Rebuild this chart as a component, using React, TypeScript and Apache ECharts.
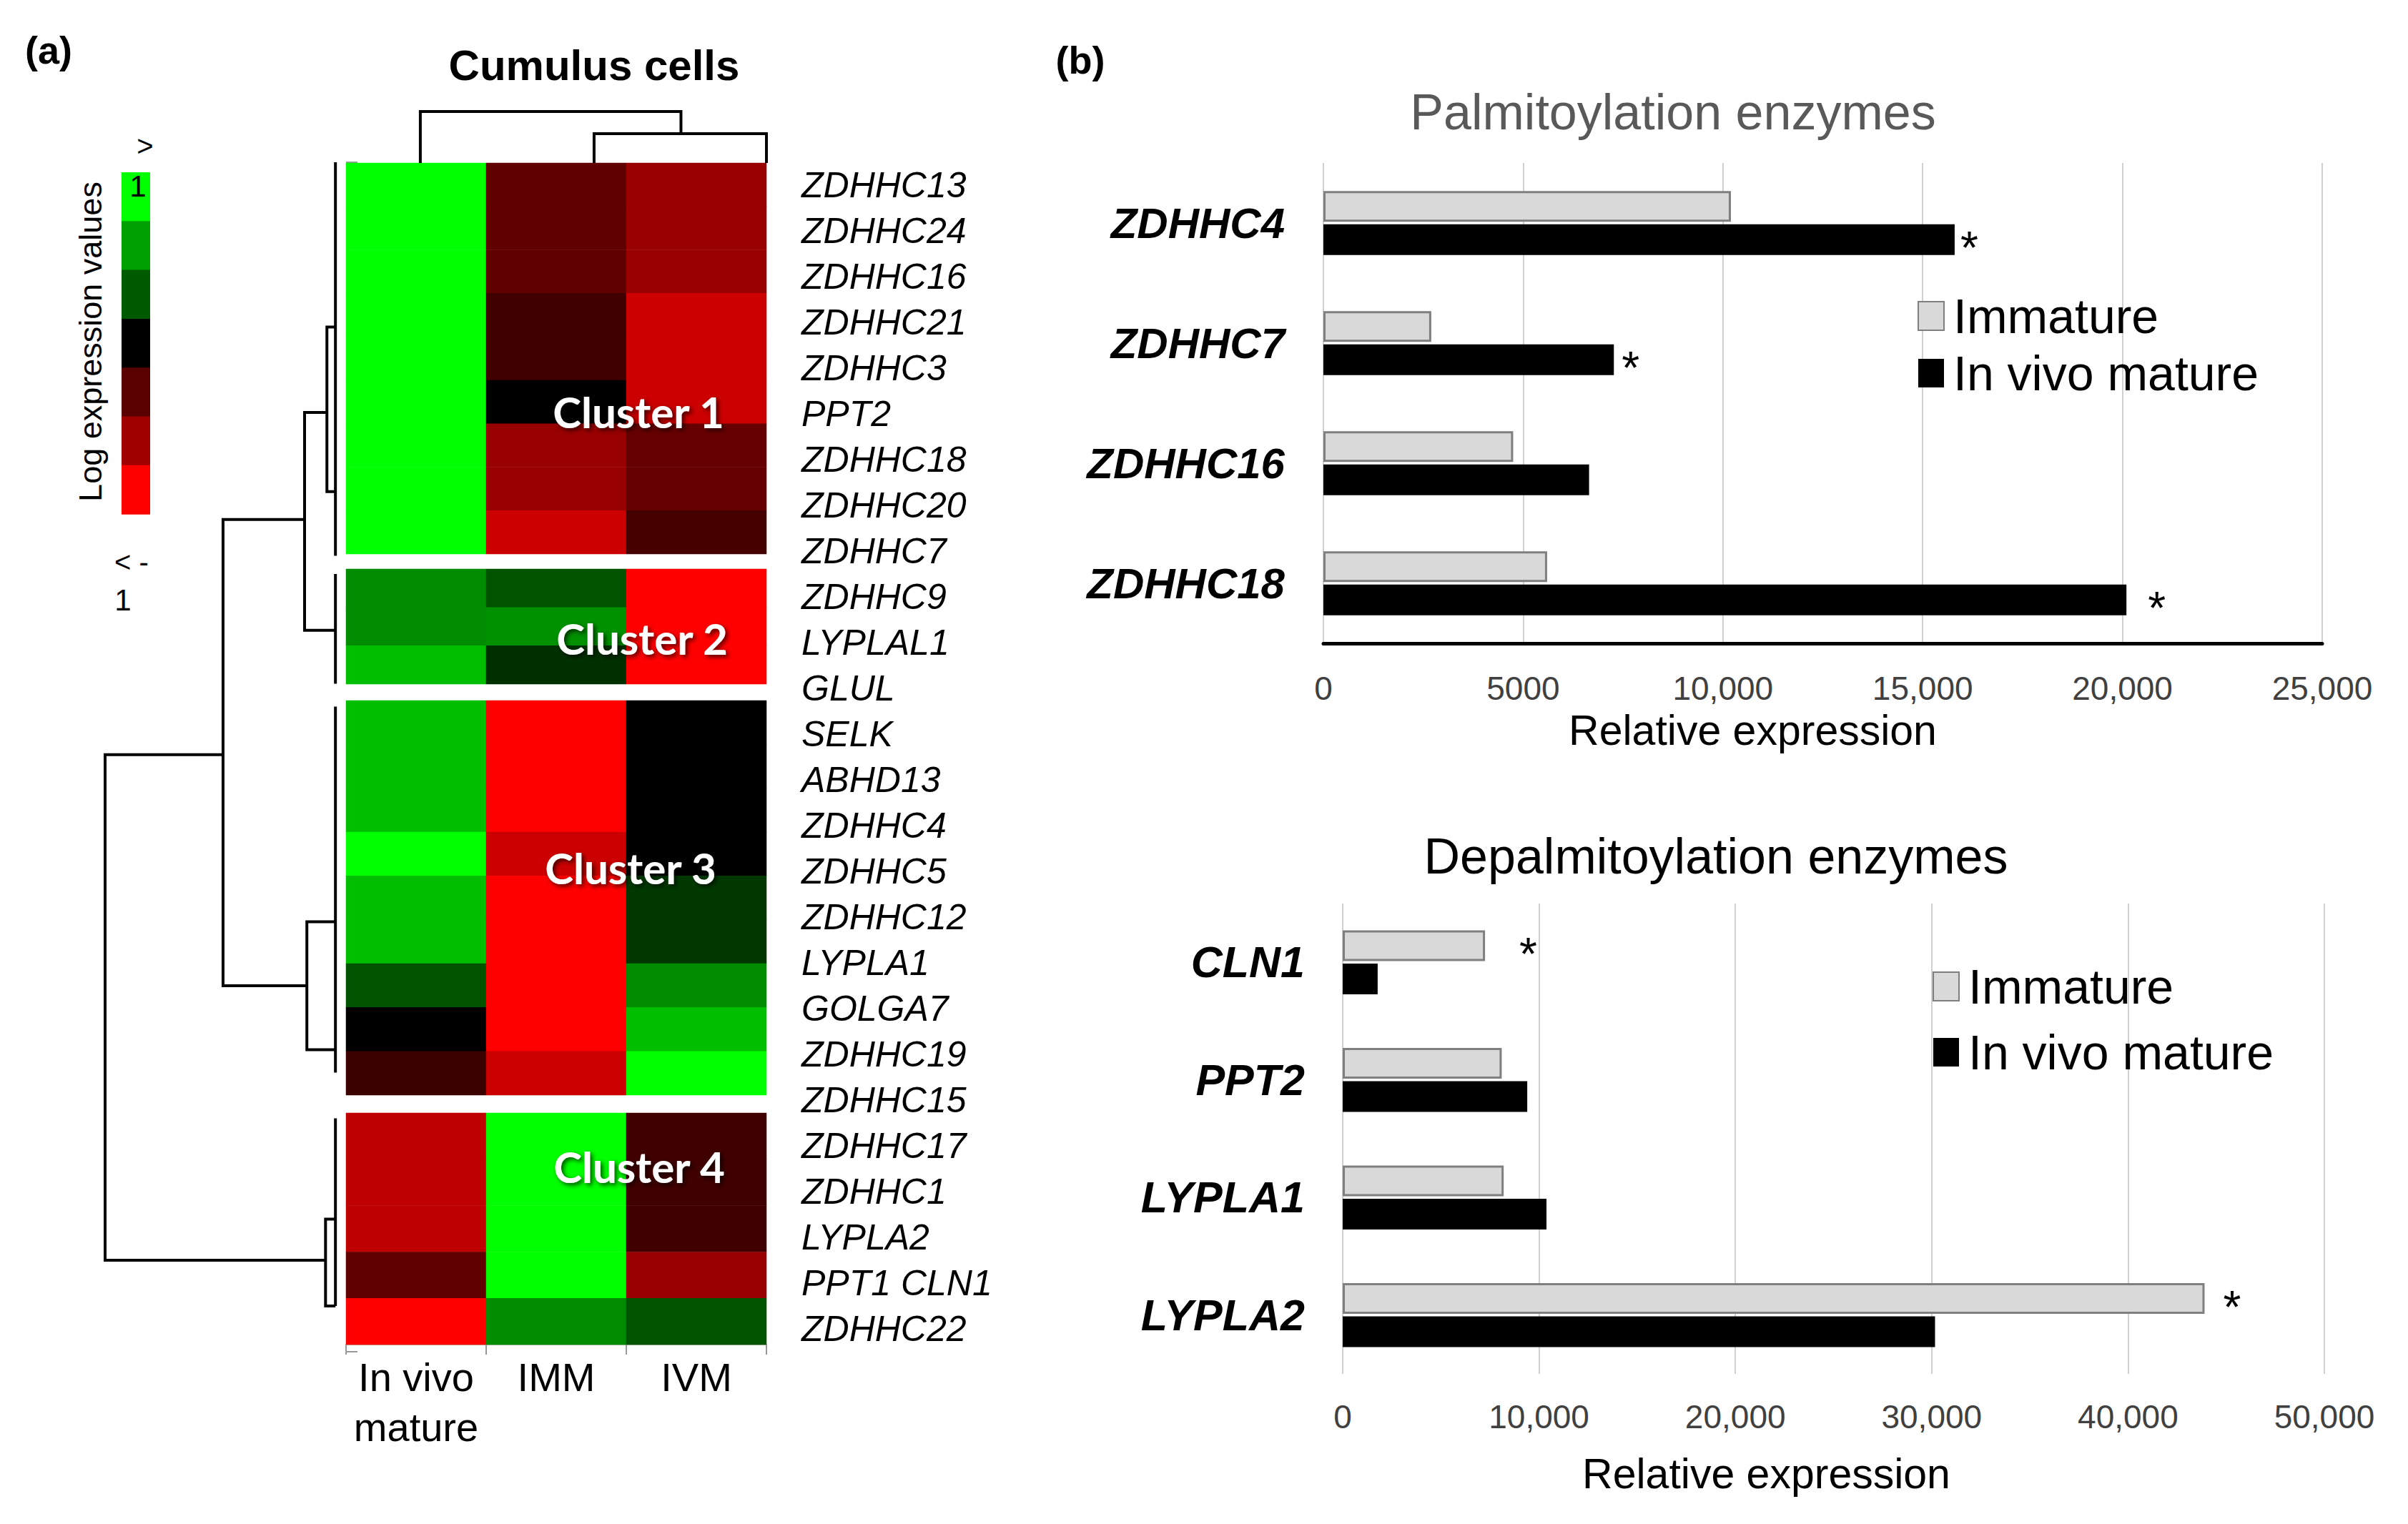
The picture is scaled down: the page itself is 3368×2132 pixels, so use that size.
import React, { useEffect, useRef } from 'react';
import * as echarts from 'echarts';

const FONT = 'Liberation Sans, Arial, sans-serif';

// ---------- Heatmap data (log expression, -1 .. 1) ----------
const colLabels = ['In vivo\nmature', 'IMM', 'IVM'];
const cluster1Genes = ['ZDHHC13', 'ZDHHC24', 'ZDHHC16', 'ZDHHC21', 'ZDHHC3', 'PPT2', 'ZDHHC18', 'ZDHHC20', 'ZDHHC7'];
const cluster1Values = [
  [1, -0.38, -0.6], [1, -0.38, -0.6], [1, -0.38, -0.6],
  [1, -0.25, -0.8], [1, -0.25, -0.8], [1, 0, -0.8],
  [1, -0.6, -0.4], [1, -0.6, -0.4], [1, -0.8, -0.27],
];
const cluster2Genes = ['ZDHHC9', 'LYPLAL1', 'GLUL'];
const cluster2Values = [[0.55, 0.33, -1], [0.55, 0.57, -1], [0.75, 0.19, -1]];
const cluster3Genes = ['SELK', 'ABHD13', 'ZDHHC4', 'ZDHHC5', 'ZDHHC12', 'LYPLA1', 'GOLGA7', 'ZDHHC19', 'ZDHHC15'];
const cluster3Values = [
  [0.75, -1, 0], [0.75, -1, 0], [0.75, -1, 0], [1, -0.8, 0],
  [0.75, -1, 0.22], [0.75, -1, 0.22], [0.33, -1, 0.55], [0, -1, 0.75], [-0.23, -0.8, 1],
];
const cluster4Genes = ['ZDHHC17', 'ZDHHC1', 'LYPLA2', 'PPT1 CLN1', 'ZDHHC22'];
const cluster4Values = [[-0.75, 1, -0.25], [-0.75, 1, -0.25], [-0.75, 1, -0.25], [-0.38, 1, -0.6], [-1, 0.55, 0.33]];
const clusterNames = ['Cluster 1', 'Cluster 2', 'Cluster 3', 'Cluster 4'];
const colorbarColors = ['#00FF00', '#00A000', '#005A00', '#000000', '#5A0000', '#A00000', '#FF0000'];

// Row dendrogram: [height, row index] polylines
const rowDendro = [
  [[0.43, 23.5], [10, 23.5], [10, 12.45], [4.88, 12.45]],
  [[1.34, 7.31], [4.88, 7.31], [4.88, 17.5], [1.24, 17.5]],
  [[0.37, 4.97], [1.34, 4.97], [1.34, 9.73], [0, 9.73]],
  [[0, 3.1], [0.37, 3.1], [0.37, 6.7], [0, 6.7]],
  [[0, 16.1], [1.24, 16.1], [1.24, 18.9], [0, 18.9]],
  [[0, 22.6], [0.43, 22.6], [0.43, 24.5], [0, 24.5]],
  [[0, -0.5], [0, 8.1]],
  [[0, 8.5], [0, 10.9]],
  [[0, 11.4], [0, 19.4]],
  [[0, 20.4], [0, 24.5]],
];
// Column dendrogram: [column index, height]
const colDendro = [
  [[0.03, 0], [0.03, 10], [1.89, 10], [1.89, 5.7]],
  [[1.27, 0], [1.27, 5.7], [2.5, 5.7], [2.5, 0]],
];

// ---------- Bar data ----------
const palmCats = ['ZDHHC4', 'ZDHHC7', 'ZDHHC16', 'ZDHHC18'];
const palmImmature = [10200, 2700, 4750, 5600];
const palmMature = [15800, 7270, 6650, 20100];
const palmImmatureStar = [false, false, false, false];
const palmMatureStar = [true, true, false, true];
const palmTicks = ['0', '5000', '10,000', '15,000', '20,000', '25,000'];

const depalmCats = ['CLN1', 'PPT2', 'LYPLA1', 'LYPLA2'];
const depalmImmature = [7250, 8100, 8200, 43900];
const depalmMature = [1780, 9400, 10380, 30170];
const depalmImmatureStar = [true, false, false, true];
const depalmMatureStar = [false, false, false, false];
const depalmTicks = ['0', '10,000', '20,000', '30,000', '40,000', '50,000'];

const palmStarGap = [8, 11, 0, 30];
const depalmStarGap = [48, 0, 0, 26];

function starData(values: number[], stars: boolean[], gaps: number[]) {
  return values.map((v, i) => ({
    value: v,
    label: stars[i]
      ? { show: true, position: 'right', distance: gaps[i], formatter: '*', fontSize: 64, color: '#000', fontFamily: FONT, offset: [0, 12] }
      : { show: false },
  }));
}

function txt(x: number, y: number, text: string, size: number, extra: any = {}, el: any = {}) {
  return {
    type: 'text',
    x,
    y,
    silent: true,
    z: 100,
    ...el,
    style: {
      text,
      fontSize: size,
      fontFamily: FONT,
      fill: '#000',
      textAlign: 'center',
      textVerticalAlign: 'middle',
      verticalAlign: 'middle',
      ...extra,
    },
  };
}

function buildOption(): any {
  const clusters = [
    { genes: cluster1Genes, values: cluster1Values },
    { genes: cluster2Genes, values: cluster2Values },
    { genes: cluster3Genes, values: cluster3Values },
    { genes: cluster4Genes, values: cluster4Values },
  ];
  const heatGrids = [
    { top: 228, height: 547 },
    { top: 796, height: 161 },
    { top: 980, height: 552 },
    { top: 1557, height: 324 },
  ];
  const allGenes = clusters.flatMap((c) => c.genes);

  const grid: any[] = heatGrids.map((g) => ({ left: 484, width: 588, top: g.top, height: g.height }));
  grid.push({ left: 484, width: 588, top: 227, height: 1664 }); // 4 labels
  grid.push({ left: 147, width: 327, top: 195, height: 1728 }); // 5 row dendro
  grid.push({ left: 386, width: 784, top: 148.8, height: 86.4 }); // 6 col dendro
  grid.push({ left: 1851, width: 1397, top: 228, height: 672 }); // 7 top bars
  grid.push({ left: 1878, width: 1373, top: 1264, height: 658 }); // 8 bottom bars

  const xAxis: any[] = clusters.map((_, i) =>
    i < 3
      ? { gridIndex: i, type: 'category', data: colLabels, show: false }
      : {
          gridIndex: i,
          type: 'category',
          data: colLabels,
          axisLine: { show: true, lineStyle: { color: '#b0b0b0', width: 2 } },
          axisTick: { show: true, length: 14, lineStyle: { color: '#999', width: 2 } },
          axisLabel: { fontSize: 56, lineHeight: 70, margin: 10, color: '#000', fontFamily: FONT, interval: 0 },
        }
  );
  xAxis.push({ gridIndex: 4, type: 'value', show: false, min: 0, max: 1 });
  xAxis.push({ gridIndex: 5, type: 'value', show: false, min: -0.15, max: 10, inverse: true });
  xAxis.push({ gridIndex: 6, type: 'value', show: false, min: -1, max: 3 });
  xAxis.push({
    gridIndex: 7,
    type: 'value',
    min: 0,
    max: 25000,
    interval: 5000,
    axisLine: { show: true, lineStyle: { color: '#000', width: 5 } },
    axisTick: { show: false },
    splitLine: { show: true, lineStyle: { color: '#d0d0d0', width: 2 } },
    axisLabel: {
      formatter: (v: number) => palmTicks[Math.round(v / 5000)] ?? '',
      fontSize: 46, color: '#404040', fontFamily: FONT, margin: 40,
    },
    name: 'Relative expression',
    nameLocation: 'middle',
    nameGap: 92,
    nameTextStyle: { fontSize: 59, color: '#000', fontFamily: FONT, padding: [0, 196, 0, 0] },
  });
  xAxis.push({
    gridIndex: 8,
    type: 'value',
    min: 0,
    max: 50000,
    interval: 10000,
    axisLine: { show: false },
    axisTick: { show: false },
    splitLine: { show: true, lineStyle: { color: '#d0d0d0', width: 2 } },
    axisLabel: {
      formatter: (v: number) => depalmTicks[Math.round(v / 10000)] ?? '',
      fontSize: 46, color: '#404040', fontFamily: FONT, margin: 37,
    },
    name: 'Relative expression',
    nameLocation: 'middle',
    nameGap: 110,
    nameTextStyle: { fontSize: 59, color: '#000', fontFamily: FONT, padding: [0, 188, 0, 0] },
  });

  const yAxis: any[] = clusters.map((c, i) => ({ gridIndex: i, type: 'category', data: c.genes, inverse: true, show: false }));
  yAxis.push({
    gridIndex: 4,
    type: 'category',
    data: allGenes,
    inverse: true,
    position: 'right',
    axisLine: { show: false },
    axisTick: { show: true, length: 16, lineStyle: { color: '#999', width: 2 } },
    axisLabel: { fontSize: 50, fontStyle: 'italic', color: '#000', margin: 49, fontFamily: FONT, interval: 0 },
  });
  yAxis.push({ gridIndex: 5, type: 'value', show: false, min: -1, max: 26, inverse: true });
  yAxis.push({ gridIndex: 6, type: 'value', show: false, min: -1, max: 11 });
  const catAxis = (gi: number, data: string[], margin: number, size: number) => ({
    gridIndex: gi,
    type: 'category',
    data,
    inverse: true,
    axisLine: { show: false },
    axisTick: { show: false },
    axisLabel: { fontSize: size, fontStyle: 'italic', fontWeight: 'bold', color: '#000', margin, fontFamily: FONT, interval: 0 },
  });
  yAxis.push(catAxis(7, palmCats, 54, 60));
  yAxis.push(catAxis(8, depalmCats, 53, 61));

  const series: any[] = clusters.map((c, i) => ({
    type: 'heatmap',
    xAxisIndex: i,
    yAxisIndex: i,
    data: c.values.flatMap((row, r) => row.map((v, col) => [col, r, v])),
    itemStyle: { borderWidth: 0 },
    silent: true,
  }));
  series.push({ type: 'scatter', xAxisIndex: 4, yAxisIndex: 4, data: [] });
  series.push({
    type: 'lines',
    coordinateSystem: 'cartesian2d',
    xAxisIndex: 5,
    yAxisIndex: 5,
    polyline: true,
    silent: true,
    lineStyle: { color: '#000', width: 4, opacity: 1 },
    data: rowDendro.map((coords) => ({ coords })),
  });
  series.push({
    type: 'lines',
    coordinateSystem: 'cartesian2d',
    xAxisIndex: 6,
    yAxisIndex: 6,
    polyline: true,
    silent: true,
    lineStyle: { color: '#000', width: 4, opacity: 1 },
    data: colDendro.map((coords) => ({ coords })),
  });
  const immStyle = { color: '#D9D9D9', borderColor: '#7F7F7F', borderWidth: 3 };
  const matStyle = { color: '#000000' };
  series.push({ type: 'bar', name: 'Immature', xAxisIndex: 7, yAxisIndex: 7, barWidth: 43, barGap: '8%', itemStyle: immStyle, data: starData(palmImmature, palmImmatureStar, palmStarGap) });
  series.push({ type: 'bar', name: 'In vivo mature', xAxisIndex: 7, yAxisIndex: 7, barWidth: 43, barGap: '8%', itemStyle: matStyle, data: starData(palmMature, palmMatureStar, palmStarGap) });
  series.push({ type: 'bar', name: 'Immature', xAxisIndex: 8, yAxisIndex: 8, barWidth: 43, barGap: '8%', itemStyle: immStyle, data: starData(depalmImmature, depalmImmatureStar, depalmStarGap) });
  series.push({ type: 'bar', name: 'In vivo mature', xAxisIndex: 8, yAxisIndex: 8, barWidth: 43, barGap: '8%', itemStyle: matStyle, data: starData(depalmMature, depalmMatureStar, depalmStarGap) });

  const legendBase = {
    orient: 'vertical',
    data: ['Immature', 'In vivo mature'],
    icon: 'rect',
    itemWidth: 36,
    itemHeight: 40,
    selectedMode: false,
    textStyle: { fontSize: 68, color: '#000', fontFamily: FONT, padding: [0, 0, 0, 8] },
  };

  const graphic: any[] = [];
  colorbarColors.forEach((c, i) => {
    graphic.push({ type: 'rect', silent: true, shape: { x: 170, y: 241 + i * 68.3, width: 40, height: 69 }, style: { fill: c } });
  });
  graphic.push(txt(193, 260, '1', 42));
  graphic.push(txt(203, 204, '>', 40));
  graphic.push(txt(184, 786, '< -', 40));
  graphic.push(txt(172, 839, '1', 42));
  graphic.push(txt(126, 478, 'Log expression values', 45, {}, { rotation: Math.PI / 2 }));
  graphic.push(txt(68, 70, '(a)', 54, { fontWeight: 'bold' }));
  graphic.push(txt(1511, 84, '(b)', 54, { fontWeight: 'bold' }));
  graphic.push(txt(831, 91, 'Cumulus cells', 60, { fontWeight: 'bold' }));
  graphic.push(txt(2340, 157, 'Palmitoylation enzymes', 70, { fill: '#595959' }));
  graphic.push(txt(2400, 1198, 'Depalmitoylation enzymes', 70, { fill: '#000' }));
  const clusterPos = [[893, 576], [898, 893], [882, 1214], [894, 1632]];
  clusterNames.forEach((n, i) => {
    graphic.push(
      txt(clusterPos[i][0], clusterPos[i][1], n, 60, {
        fontFamily: 'Lato, Open Sans, sans-serif',
        fontWeight: 'bold',
        fill: '#fff',
        textShadowColor: 'rgba(0,0,0,0.7)',
        textShadowBlur: 6,
        textShadowOffsetX: 3,
        textShadowOffsetY: 3,
      })
    );
  });

  return {
    animation: false,
    backgroundColor: '#fff',
    grid,
    xAxis,
    yAxis,
    visualMap: {
      type: 'continuous',
      min: -1,
      max: 1,
      show: false,
      seriesIndex: [0, 1, 2, 3],
      dimension: 2,
      inRange: { color: ['#FF0000', '#000000', '#00FF00'] },
    },
    legend: [
      { ...legendBase, left: 2677, top: 403, itemGap: 12 },
      { ...legendBase, left: 2698, top: 1341, itemGap: 24 },
    ],
    series,
    graphic,
  };
}

export default function App() {
  const ref = useRef<HTMLDivElement>(null);
  useEffect(() => {
    document.body.style.margin = '0';
    const chart = echarts.init(ref.current as HTMLDivElement, undefined, { renderer: 'svg' });
    chart.setOption(buildOption());
    return () => chart.dispose();
  }, []);
  return <div ref={ref} style={{ width: 3368, height: 2132, background: '#fff' }} />;
}
